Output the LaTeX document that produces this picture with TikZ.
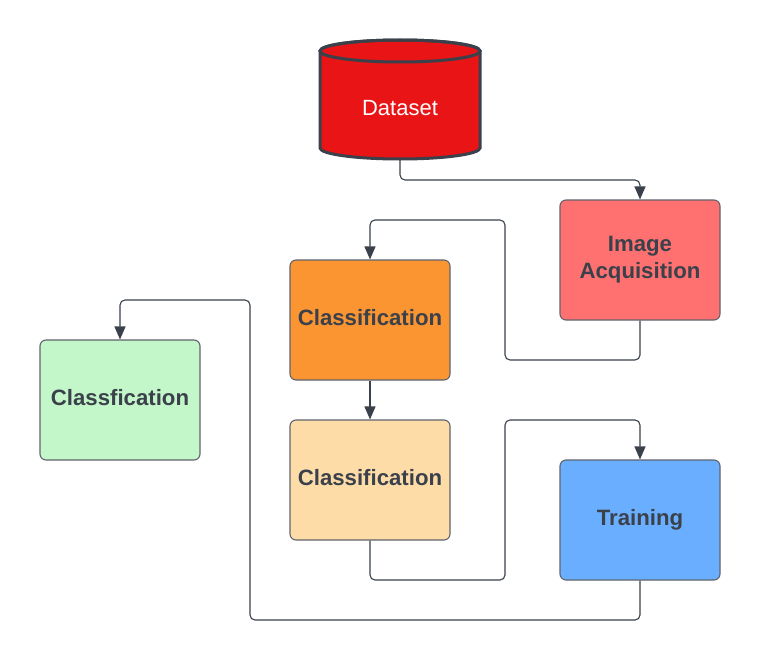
\documentclass[tikz,border=0pt]{standalone}
\usepackage{fontspec}
\setmainfont{Liberation Sans}
\usetikzlibrary{arrows.meta}
\definecolor{txt}{HTML}{3A414B}
\definecolor{boxline}{HTML}{5F646E}
\definecolor{dsred}{HTML}{E81416}
\definecolor{acqred}{HTML}{FF7070}
\definecolor{orangeA}{HTML}{FA9532}
\definecolor{orangeB}{HTML}{FEDCA7}
\definecolor{greenA}{HTML}{C3F6C8}
\definecolor{blueA}{HTML}{6AAFFF}
\begin{document}
\begin{tikzpicture}[x=1pt,y=-1pt,
  box/.style={draw=boxline, line width=1.1pt, rounded corners=6pt,
    minimum width=160pt, minimum height=120pt, inner sep=0pt, text depth=5pt,
    font=\bfseries\fontsize{22.2}{27}\selectfont, text=txt, align=center},
  conn/.style={draw=txt, line width=1.1pt, rounded corners=5pt,
    -{Triangle[length=13pt,width=11pt]}}]
\useasboundingbox (0,0) rectangle (760,661);
\fill[white] (0,0) rectangle (760,661);
% Dataset cylinder
\filldraw[fill=dsred, draw=txt, line width=3pt]
  (320,51) -- (320,148) arc[start angle=180, end angle=0, x radius=80, y radius=11]
  -- (480,51) arc[start angle=0, end angle=-180, x radius=80, y radius=11] -- cycle;
\draw[txt, line width=3pt] (400,51) ellipse [x radius=80, y radius=11];
\node[text=white, font=\fontsize{22}{26}\selectfont] (ds) at (400,108) {Dataset};
\coordinate (dsb) at (400,160);
% boxes
\node[box, fill=acqred] (acq) at (640,260) {Image\\Acquisition};
\node[box, fill=orangeA] (cl1) at (370,320) {Classification};
\node[box, fill=orangeB] (cl2) at (370,480) {Classification};
\node[box, fill=greenA] (cl3) at (120,400) {Classfication};
\node[box, fill=blueA] (tr) at (640,520) {Training};
% connectors
\draw[conn] (dsb) -- (dsb |- 0,180) -- (acq.north |- 0,180) -- (acq.north);
\draw[conn] (acq.south) -- (acq.south |- 0,360) -- (505,360) -- (505,220) -- (cl1.north |- 0,220) -- (cl1.north);
\draw[conn] (cl1.south) -- (cl2.north);
\draw[conn] (cl2.south) -- (cl2.south |- 0,580) -- (505,580) -- (505,420) -- (tr.north |- 0,420) -- (tr.north);
\draw[conn] (tr.south) -- (tr.south |- 0,620) -- (250,620) -- (250,300) -- (cl3.north |- 0,300) -- (cl3.north);
\end{tikzpicture}
\end{document}
